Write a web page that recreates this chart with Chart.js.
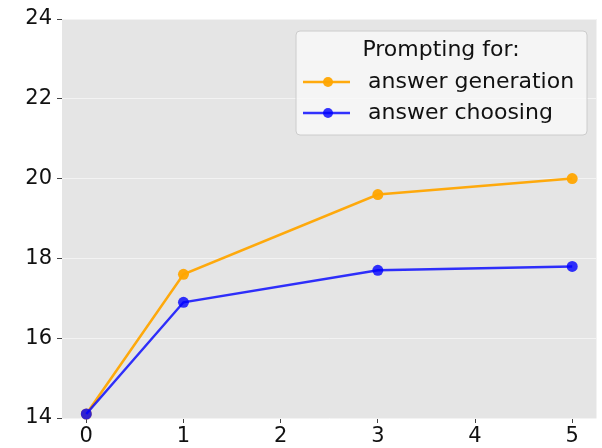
<!DOCTYPE html>
<html>
<head>
<meta charset="utf-8">
<script src="https://cdn.jsdelivr.net/npm/chart.js@4/dist/chart.umd.min.js"></script>
<style>
    html, body { margin: 0; padding: 0; background: #fff; }
    #wrap { width: 602px; height: 448px; }
</style>
</head>
<body>
<div id="wrap"><canvas id="shotsChart" width="602" height="448"></canvas></div>
<script>
const shots = [0, 1, 3, 5];
const generationScores = [14.1, 17.6, 19.6, 20.0];
const choosingScores = [14.1, 16.9, 17.7, 17.8];
const yTicks = [14, 16, 18, 20, 22, 24];
const xTicks = [0, 1, 2, 3, 4, 5];
const seriesLabels = ['answer generation', 'answer choosing'];
const legendTitle = 'Prompting for:';

const FONT = 'DejaVu Sans';

(() => {
    const ctx = document.getElementById('shotsChart').getContext('2d');

    const toPoints = vals => shots.map((x, i) => ({ x: x, y: vals[i] }));

    // grey plot background like ggplot style
    const plotBg = {
        id: 'plotBg',
        beforeDraw(chart) {
            const { ctx, chartArea: a } = chart;
            ctx.save();
            ctx.fillStyle = '#e5e5e5';
            ctx.fillRect(a.left, a.top, a.right - a.left, a.bottom - a.top);
            ctx.restore();
        }
    };

    // legend box drawn inside the plot, top right
    const boxLegend = {
        id: 'boxLegend',
        afterDraw(chart) {
            const c = chart.ctx;
            const x = 296, y = 31, w = 291, h = 104, r = 4;
            c.save();
            c.beginPath();
            c.roundRect(x, y, w, h, r);
            c.fillStyle = 'rgba(248,248,248,0.85)';
            c.fill();
            c.strokeStyle = '#cccccc';
            c.lineWidth = 1;
            c.stroke();

            c.fillStyle = '#111';
            c.font = '22px "' + FONT + '"';
            c.textBaseline = 'middle';
            c.textAlign = 'center';
            c.fillText(legendTitle, x + 145, y + 19);

            c.textAlign = 'left';
            chart.data.datasets.forEach((ds, i) => {
                const ly = y + 51 + i * 31;
                c.strokeStyle = ds.borderColor;
                c.lineWidth = 2.5;
                c.beginPath();
                c.moveTo(x + 7, ly);
                c.lineTo(x + 54, ly);
                c.stroke();
                c.fillStyle = ds.backgroundColor;
                c.beginPath();
                c.arc(x + 32, ly, 5, 0, Math.PI * 2);
                c.fill();
                c.fillStyle = '#111';
                c.fillText(ds.label, x + 72, ly);
            });
            c.restore();
        }
    };

    const data = {
        datasets: [{
            label: seriesLabels[0],
            data: toPoints(generationScores),
            borderColor: 'rgba(255,165,0,0.95)',
            backgroundColor: 'rgba(255,165,0,0.95)',
            borderWidth: 2.5,
            pointRadius: 5.5,
            pointBorderWidth: 0,
            order: 2
        }, {
            label: seriesLabels[1],
            data: toPoints(choosingScores),
            borderColor: 'rgba(0,0,255,0.8)',
            backgroundColor: 'rgba(0,0,255,0.8)',
            borderWidth: 2.5,
            pointRadius: 5.5,
            pointBorderWidth: 0,
            order: 1 // blue drawn on top, as in the original
        }]
    };

    const config = {
        type: 'line',
        data: data,
        options: {
            responsive: false,
            animation: false,
            clip: false,
            layout: { padding: { top: 19, right: 4, left: 0, bottom: 0 } },
            plugins: {
                legend: { display: false },
                tooltip: { enabled: false }
            },
            scales: {
                x: {
                    type: 'linear',
                    min: -0.25,
                    max: 5.25,
                    afterBuildTicks: s => { s.ticks = xTicks.map(v => ({ value: v })); },
                    afterFit: s => { s.height = 30; },
                    border: { display: false },
                    grid: {
                        drawOnChartArea: false,
                        color: '#444',
                        tickLength: 5,
                        tickColor: '#444'
                    },
                    ticks: {
                        color: '#111',
                        padding: 1,
                        font: { family: FONT, size: 21 }
                    }
                },
                y: {
                    min: 14,
                    max: 24,
                    afterBuildTicks: s => { s.ticks = yTicks.map(v => ({ value: v })); },
                    afterFit: s => { s.width = 62; },
                    border: { display: false },
                    grid: {
                        color: '#f3f3f3',
                        lineWidth: 1,
                        tickLength: 5,
                        tickColor: '#444'
                    },
                    ticks: {
                        color: '#111',
                        padding: 5,
                        font: { family: FONT, size: 21 }
                    }
                }
            }
        },
        plugins: [plotBg, boxLegend]
    };

    new Chart(ctx, config);
})();
</script>
</body>
</html>
